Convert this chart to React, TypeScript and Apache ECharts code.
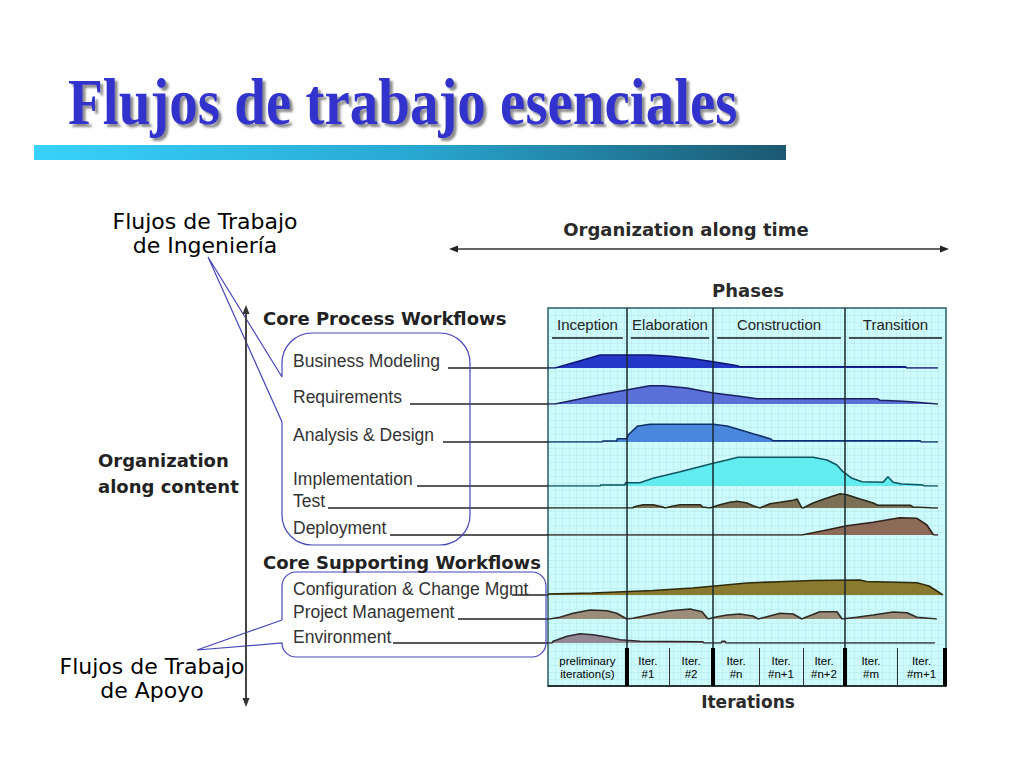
import React, { useEffect, useRef } from "react";
import * as echarts from "echarts";

// ---------- data ----------
const TITLE = "Flujos de trabajo esenciales";
const PHASES = ["Inception", "Elaboration", "Construction", "Transition"];
const PHASE_BOUNDS = [0, 19.8, 41.5, 74.6, 100];
const ITERATIONS = [
  "preliminary\niteration(s)",
  "Iter.\n#1",
  "Iter.\n#2",
  "Iter.\n#n",
  "Iter.\n#n+1",
  "Iter.\n#n+2",
  "Iter.\n#m",
  "Iter.\n#m+1",
];
const ITER_BOUNDS = [0, 19.8, 30.4, 41.5, 53.0, 64.1, 74.6, 87.7, 100];

const WORKFLOWS = [
  "Business Modeling",
  "Requirements",
  "Analysis & Design",
  "Implementation",
  "Test",
  "Deployment",
  "Configuration & Change Mgmt",
  "Project Management",
  "Environment",
];

const businessModeling = [
  [0, 0], [1.8, 0], [13.1, 13], [25.6, 13], [30.7, 11.7], [35.7, 9.7], [41.5, 6.3],
  [45.0, 4], [47.5, 2.3], [48.2, 1.3], [89.7, 1.3], [90.2, 0], [98, 0],
];
const requirements = [
  [0, 0], [1.8, 0], [13.1, 9.3], [25.6, 18.3], [28.9, 18.3], [34.9, 16], [41.5, 11],
  [48.2, 7.7], [52.5, 5.3], [82.7, 5.3], [83.4, 3.7], [89.2, 2.7], [92.7, 1.7], [97.7, 0], [98, 0],
];
const analysisDesign = [
  [0, 0], [13.6, 0], [13.8, 1], [17.3, 1], [17.4, 3.3], [19.8, 3.3], [20.1, 6.7], [22.4, 15.7],
  [25.6, 17.7], [41.5, 17.7], [45.0, 16], [48.2, 12.3], [51.5, 8.3], [55.8, 3.3], [56.5, 1.3],
  [93.5, 1.3], [93.8, 0], [98, 0],
];
const implementation = [
  [0, 0], [13.1, 0], [13.2, 1], [19.3, 1], [19.5, 3.3], [23.1, 3.3], [26.4, 7.7], [33.2, 14.3],
  [41.5, 22.7], [45.0, 26], [47.7, 28.7], [66.6, 28.7], [70.1, 26], [72.6, 21], [74.1, 14.3],
  [76.4, 7.7], [78.9, 4.3], [84.2, 3.7], [85.4, 9.3], [86.7, 3.7], [88.9, 2], [94.2, 1], [94.5, 0], [98, 0],
];
const test = [
  [0, 0], [21.4, 0], [21.5, 1], [23.9, 3.3], [26.4, 3.3], [28.9, 1], [29.4, 0], [31.2, 1.7],
  [33.2, 3.3], [38.2, 3.3], [38.9, 1], [40.7, 0], [42.0, 1.7], [43.2, 3.3], [45.7, 5.7], [47.5, 6.7],
  [50.0, 5], [51.5, 2.3], [53.3, 0], [53.8, 1], [55.8, 4.3], [58.3, 5.7], [61.6, 7.7], [62.6, 9],
  [63.8, 0], [64.1, 0], [66.6, 5], [70.1, 10], [73.4, 14.3], [75.1, 13.3], [78.4, 9], [81.7, 5],
  [82.9, 2.7], [91.0, 2.7], [91.7, 1], [96.0, 0.3], [96.3, 0], [98, 0],
];
const deployment = [
  [0, 0], [63.8, 0], [69.1, 4.3], [75.1, 9.3], [81.7, 12.7], [88.4, 17.3], [92.7, 16.7],
  [95.2, 10], [96.7, 1], [97, 0], [98, 0],
];
const configChange = [
  [0, 1], [11.1, 2], [26.4, 4.5], [36.4, 7], [43.2, 9.5], [50.0, 12], [58.0, 13.3], [66.6, 14.5],
  [78.4, 15], [80.0, 13.5], [92.7, 12.3], [95.7, 9], [97.7, 4], [99.2, 0],
];
const projectMgmt = [
  [0, 0], [0.5, 0], [3.0, 1.7], [6.3, 5.7], [10.6, 9], [14.8, 8.3], [17.3, 5.7], [18.8, 2.3],
  [19.8, 0], [21.4, 0.7], [26.4, 5], [30.7, 8.3], [35.7, 10], [38.7, 7.3], [40.2, 0], [42.5, 2.3],
  [45.0, 4], [48.2, 5], [51.5, 3], [52.8, 0], [55.0, 2.3], [58.3, 5.7], [61.6, 5], [63.8, 0],
  [65.1, 2.3], [68.3, 7.3], [72.6, 7.3], [73.9, 0], [77.6, 1.7], [81.7, 4], [86.7, 7], [90.2, 6.3],
  [92.7, 1.7], [97.7, 0],
];
const environment = [
  [0, 0], [1.0, 0], [1.3, 1.7], [4.8, 6.7], [8.0, 9.3], [11.3, 8.3], [14.8, 6], [18.1, 3.3],
  [19.8, 2.7], [23.1, 1.7], [38.9, 1.3], [39.2, 0], [43.5, 0], [43.7, 1.7], [44.5, 1.7], [44.7, 0], [97.2, 0],
];
const WORKFLOW_VALUES = [
  businessModeling, requirements, analysisDesign, implementation, test, deployment,
  configChange, projectMgmt, environment,
];

// ---------- layout / style ----------
const PANEL_LEFT = 548;
const PANEL_WIDTH = 398;
const ROW_H = 34;
const ROW_BASE_Y = [368, 404, 442, 486, 508, 535, 595, 619, 643];
const LABEL_Y = [361, 397, 435, 479, 501, 528, 589, 612, 637];
const LINE_START_X = [448, 410, 443, 417, 328, 390, 512, 458, 393];
const FILLS = ["#2438c8", "#5b6fd8", "#4a86dc", "#62ecf0", "#7b7056", "#8c6a58", "#8a7a30", "#9c8c7a", "#948895"];
const EDGES = ["#0c1470", "#1a2060", "#10306a", "#0f5560", "#2a2818", "#302018", "#2e2a0c", "#2e2a24", "#2e2a30"];

const CALLOUT_A =
  "M282 377 L282 363 A30 30 0 0 1 312 333 L440 333 A30 30 0 0 1 470 363 L470 515 A30 30 0 0 1 440 545 L312 545 A30 30 0 0 1 282 515 L282 422 L208 257 L282 377";
const CALLOUT_B =
  "M282 620 L282 586 A14 14 0 0 1 296 572 L532 572 A14 14 0 0 1 546 586 L546 643 A14 14 0 0 1 532 657 L296 657 A14 14 0 0 1 282 643 L197 650 L282 620";

echarts.graphic.registerShape("calloutA", echarts.graphic.extendPath(CALLOUT_A, {}));
echarts.graphic.registerShape("calloutB", echarts.graphic.extendPath(CALLOUT_B, {}));

const SANS = "Liberation Sans";
const WIDE = "DejaVu Sans";

function buildOption() {
  const grids: any[] = [
    { left: PANEL_LEFT, top: 308, width: PANEL_WIDTH, height: 378, show: true, backgroundColor: "#cdfafb", borderColor: "#2e5a5f", borderWidth: 1.5 },
    { left: PANEL_LEFT, top: 310, width: PANEL_WIDTH, height: 28 },
    { left: PANEL_LEFT, top: 648, width: PANEL_WIDTH, height: 38 },
  ];
  const xAxes: any[] = [
    {
      gridIndex: 0, type: "value", min: 0, max: 100, interval: 1.75,
      axisLine: { show: false }, axisTick: { show: false }, axisLabel: { show: false },
      splitLine: { show: true, lineStyle: { color: "rgba(80,160,190,0.11)", width: 1 } },
    },
    { gridIndex: 1, type: "value", min: 0, max: 100, show: false },
    {
      gridIndex: 2, type: "value", min: 0, max: 100, position: "top",
      axisLine: { show: true, lineStyle: { color: "#1a1a1a", width: 1.5 } },
      axisTick: { show: false }, axisLabel: { show: false }, splitLine: { show: false },
    },
  ];
  const yAxes: any[] = [
    {
      gridIndex: 0, type: "value", min: 0, max: 54, interval: 1,
      axisLine: { show: false }, axisTick: { show: false }, axisLabel: { show: false },
      splitLine: { show: true, lineStyle: { color: "rgba(80,160,190,0.11)", width: 1 } },
    },
    { gridIndex: 1, type: "value", min: 0, max: 1, show: false },
    { gridIndex: 2, type: "value", min: 0, max: 1, show: false },
  ];
  const series: any[] = [
    {
      type: "line", xAxisIndex: 0, yAxisIndex: 0, data: [], silent: true,
      markLine: {
        silent: true, symbol: "none", label: { show: false },
        lineStyle: { color: "#18292c", width: 1.5, type: "solid" },
        data: PHASE_BOUNDS.slice(1, -1).map((v) => ({ xAxis: v })),
      },
    },
    {
      type: "line", xAxisIndex: 1, yAxisIndex: 1, data: [], silent: true,
      markArea: {
        silent: true, itemStyle: { color: "rgba(0,0,0,0)" },
        label: { show: true, position: "inside", color: "#222", fontSize: 15, fontFamily: SANS },
        data: PHASES.map((p, i) => [{ name: p, xAxis: PHASE_BOUNDS[i] }, { xAxis: PHASE_BOUNDS[i + 1] }]),
      },
      markLine: {
        silent: true, symbol: "none", label: { show: false },
        lineStyle: { color: "#1a1a1a", width: 1.5, type: "solid" },
        data: PHASES.map((p, i) => [
          { coord: [PHASE_BOUNDS[i] + 1, 0] },
          { coord: [PHASE_BOUNDS[i + 1] - 1, 0] },
        ]),
      },
    },
    {
      type: "line", xAxisIndex: 2, yAxisIndex: 2, data: [], silent: true,
      markArea: {
        silent: true, itemStyle: { color: "rgba(0,0,0,0)" },
        label: { show: true, position: "inside", color: "#000", fontSize: 11.5, lineHeight: 13, fontFamily: SANS },
        data: ITERATIONS.map((p, i) => [{ name: p, xAxis: ITER_BOUNDS[i] }, { xAxis: ITER_BOUNDS[i + 1] }]),
      },
      markLine: {
        silent: true, symbol: "none", label: { show: false },
        data: [
          ...ITER_BOUNDS.slice(1, -1)
            .filter((v) => PHASE_BOUNDS.indexOf(v) < 0)
            .map((v) => ({ xAxis: v, lineStyle: { color: "#333", width: 1, type: "solid" } })),
          ...PHASE_BOUNDS.slice(1, -1).concat([99.6]).map((v) => ({
            xAxis: v, lineStyle: { color: "#000", width: 4, type: "solid" },
          })),
        ],
      },
    },
  ];

  WORKFLOWS.forEach((name, i) => {
    const gi = 3 + i;
    grids.push({ left: PANEL_LEFT, top: ROW_BASE_Y[i] - ROW_H, width: PANEL_WIDTH, height: ROW_H });
    xAxes.push({ gridIndex: gi, type: "value", min: 0, max: 100, show: false });
    yAxes.push({ gridIndex: gi, type: "value", min: 0, max: ROW_H, show: false });
    series.push({
      name, type: "line", xAxisIndex: gi, yAxisIndex: gi, data: WORKFLOW_VALUES[i],
      symbol: "none", silent: true, z: 3,
      lineStyle: { color: EDGES[i], width: 1.6 },
      areaStyle: { color: FILLS[i], opacity: 1 },
    });
  });

  const T = (x: number, y: number, text: string, o: any = {}, el: any = {}) => ({
    type: "text", x, y, z: 100, ...el,
    style: { text, fill: "#222", fontFamily: SANS, fontSize: 17, align: "left", verticalAlign: "middle", ...o },
  });

  const graphic: any[] = [
    T(68, 102, TITLE, {
      fontFamily: "Liberation Serif", fontWeight: "bold", fontSize: 57, fill: "#3333cc",
      textShadowColor: "rgba(110,110,110,0.8)", textShadowBlur: 2, textShadowOffsetX: 3, textShadowOffsetY: 3,
    }, { scaleY: 1.15 }),
    {
      type: "rect", z: 100, shape: { x: 34, y: 145, width: 752, height: 15 },
      style: {
        fill: new echarts.graphic.LinearGradient(0, 0, 1, 0, [
          { offset: 0, color: "#38d2fb" },
          { offset: 0.5, color: "#29a8d2" },
          { offset: 1, color: "#1c5870" },
        ]),
      },
    },
    T(205, 233, "Flujos de Trabajo\nde Ingeniería", { fontFamily: WIDE, fontSize: 22, lineHeight: 24, align: "center", fill: "#000" }),
    T(152, 678, "Flujos de Trabajo\nde Apoyo", { fontFamily: WIDE, fontSize: 22, lineHeight: 24, align: "center", fill: "#000" }),
    { type: "calloutA", z: 100, style: { fill: "none", stroke: "#4747b8", lineWidth: 1.2 } },
    { type: "calloutB", z: 100, style: { fill: "none", stroke: "#4747b8", lineWidth: 1.2 } },
    // axes arrows
    { type: "line", z: 100, shape: { x1: 246, y1: 312, x2: 246, y2: 700 }, style: { stroke: "#444", lineWidth: 2 } },
    { type: "polygon", z: 100, shape: { points: [[246, 305], [242.5, 314], [249.5, 314]] }, style: { fill: "#333" } },
    { type: "polygon", z: 100, shape: { points: [[246, 707], [242.5, 698], [249.5, 698]] }, style: { fill: "#333" } },
    { type: "line", z: 100, shape: { x1: 455, y1: 249, x2: 944, y2: 249 }, style: { stroke: "#333", lineWidth: 1.6 } },
    { type: "polygon", z: 100, shape: { points: [[449, 249], [458, 245.5], [458, 252.5]] }, style: { fill: "#222" } },
    { type: "polygon", z: 100, shape: { points: [[949, 249], [940, 245.5], [940, 252.5]] }, style: { fill: "#222" } },
    // headings
    T(686, 229, "Organization along time", { fontFamily: WIDE, fontWeight: "bold", fontSize: 18, align: "center", fill: "#2a2a2a" }),
    T(748, 290, "Phases", { fontFamily: WIDE, fontWeight: "bold", fontSize: 18, align: "center", fill: "#2a2a2a" }),
    T(748, 702, "Iterations", { fontFamily: WIDE, fontWeight: "bold", fontSize: 17, align: "center", fill: "#2a2a2a" }),
    T(263, 318, "Core Process Workflows", { fontFamily: WIDE, fontWeight: "bold", fontSize: 18, fill: "#222" }),
    T(263, 562, "Core Supporting Workflows", { fontFamily: WIDE, fontWeight: "bold", fontSize: 18, fill: "#222" }),
    T(98, 473, "Organization\nalong content", { fontFamily: WIDE, fontWeight: "bold", fontSize: 18, lineHeight: 26, fill: "#222" }),
  ];

  WORKFLOWS.forEach((name, i) => {
    graphic.push(T(293, LABEL_Y[i], name, { fill: "#333", fontSize: 17.5 }));
    graphic.push({
      type: "line", z: 99,
      shape: { x1: LINE_START_X[i], y1: ROW_BASE_Y[i], x2: PANEL_LEFT, y2: ROW_BASE_Y[i] },
      style: { stroke: "#222", lineWidth: 1.5 },
    });
  });

  return {
    animation: false,
    backgroundColor: "#ffffff",
    grid: grids,
    xAxis: xAxes,
    yAxis: yAxes,
    series,
    graphic,
  };
}

export default function App() {
  const ref = useRef<HTMLDivElement>(null);
  useEffect(() => {
    if (!ref.current) return;
    const chart = echarts.init(ref.current, null, { renderer: "svg" });
    chart.setOption(buildOption() as any);
    return () => chart.dispose();
  }, []);
  return (
    <div
      ref={ref}
      style={{ position: "fixed", left: 0, top: 0, width: 1024, height: 768 }}
    />
  );
}
